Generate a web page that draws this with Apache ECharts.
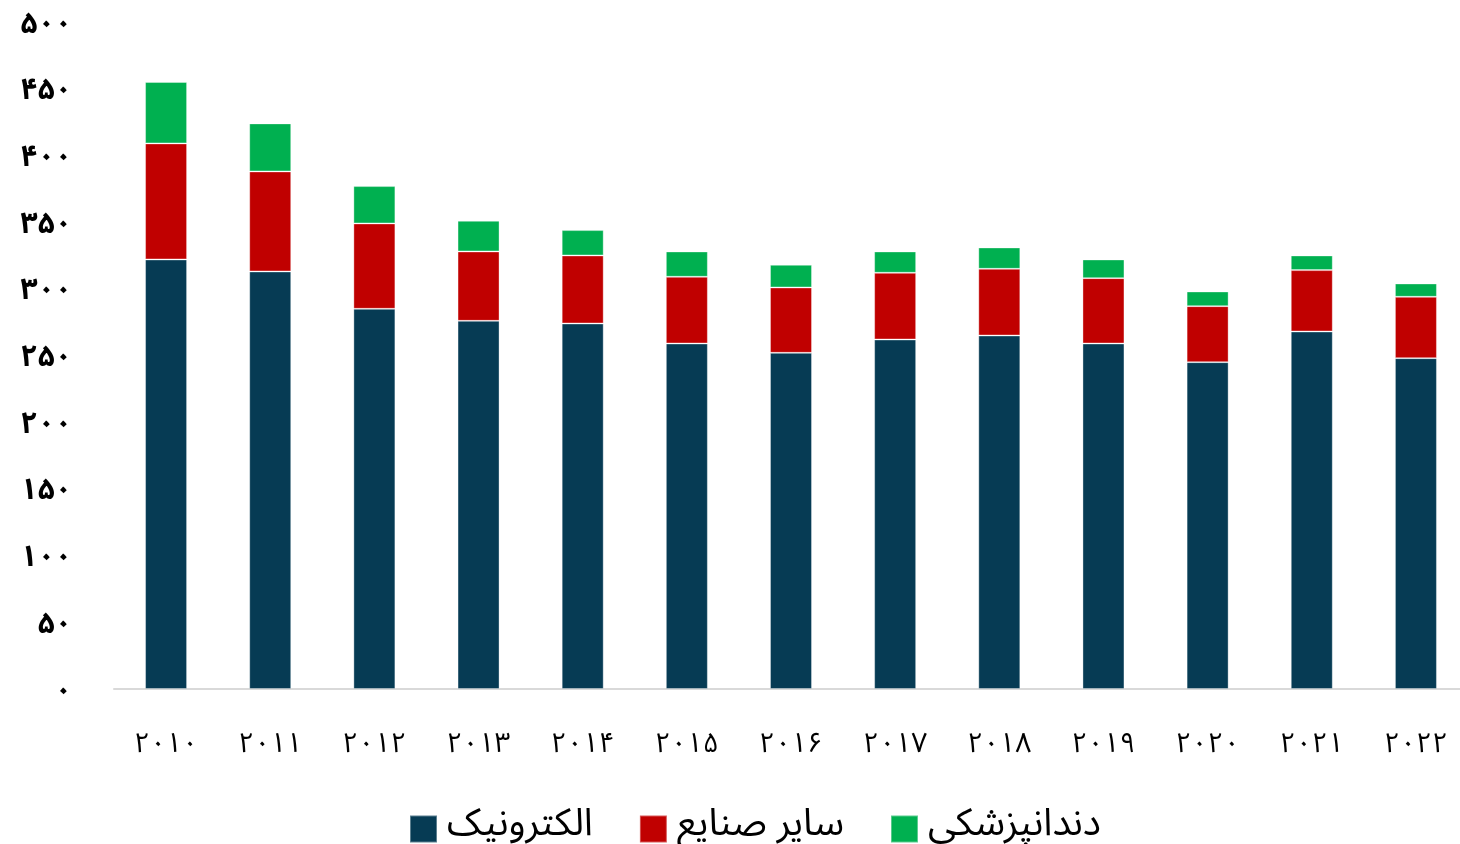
<!DOCTYPE html>
<html>
<head>
<meta charset="utf-8">
<style>
  html, body { margin: 0; padding: 0; background: #fff; overflow: hidden; }
  #chart { width: 1468px; height: 844px; }
</style>
<script src="https://cdn.jsdelivr.net/npm/echarts@6/dist/echarts.min.js"></script>
</head>
<body>
<div id="chart"></div>
<script>
// Years on the category axis
const years = [2010, 2011, 2012, 2013, 2014, 2015, 2016, 2017, 2018, 2019, 2020, 2021, 2022];

// Stacked segments per year
const electronics = [322, 313, 285, 276, 274, 259, 252, 262, 265, 259, 245, 268, 248];
const otherIndustries = [87, 75, 64, 52, 51, 50, 49, 50, 50, 49, 42, 46, 46];
const dental = [46, 36, 28, 23, 19, 19, 17, 16, 16, 14, 11, 11, 10];

// Series names
const seriesNames = ['الکترونیک', 'سایر صنایع', 'دندانپزشکی'];
const seriesColors = ['#063b54', '#c00000', '#00b050'];

// Value axis range
const yMin = 0, yMax = 500, yStep = 50;

const faDigits = '۰۱۲۳۴۵۶۷۸۹';
function toFa(v) {
  return String(v).replace(/[0-9]/g, d => faDigits[+d]);
}

const font = '"Noto Sans Arabic", "Noto Naskh Arabic", "DejaVu Sans"';
const chart = echarts.init(document.getElementById('chart'));

const seriesData = [electronics, otherIndustries, dental];

chart.setOption({
  animation: false,
  textStyle: { fontFamily: font },
  grid: { left: 114, top: 22, right: 0, bottom: 155, containLabel: false },
  legend: {
    top: 805,
    left: 404,
    itemWidth: 27,
    itemHeight: 27,
    itemGap: 46,
    icon: 'rect',
    textStyle: { fontSize: 38, color: '#000', fontFamily: font, padding: [0, 0, 0, 5] },
    data: seriesNames
  },
  xAxis: {
    type: 'category',
    data: years,
    axisLine: { lineStyle: { color: '#d9d9d9', width: 2 } },
    axisTick: { show: false },
    axisLabel: {
      margin: 45,
      fontSize: 28,
      color: '#000',
      fontFamily: font,
      formatter: v => toFa(v)
    }
  },
  yAxis: {
    type: 'value',
    min: yMin,
    max: yMax,
    interval: yStep,
    splitLine: { show: false },
    axisLine: { show: false },
    axisTick: { show: false },
    axisLabel: {
      margin: 42,
      fontSize: 30,
      fontWeight: 'bold',
      color: '#000',
      fontFamily: font,
      formatter: v => '{n|' + toFa(v) + '}',
      rich: {
        n: {
          fontSize: 30,
          fontWeight: 'bold',
          fontFamily: font,
          color: '#000',
          padding: [12, 0, 0, 0]
        }
      }
    }
  },
  series: seriesNames.map((name, i) => ({
    name: name,
    type: 'bar',
    stack: 'total',
    barWidth: 42,
    data: seriesData[i],
    itemStyle: { color: seriesColors[i], borderColor: 'rgba(255,255,255,0.35)', borderWidth: 1 }
  }))
});
</script>
</body>
</html>
